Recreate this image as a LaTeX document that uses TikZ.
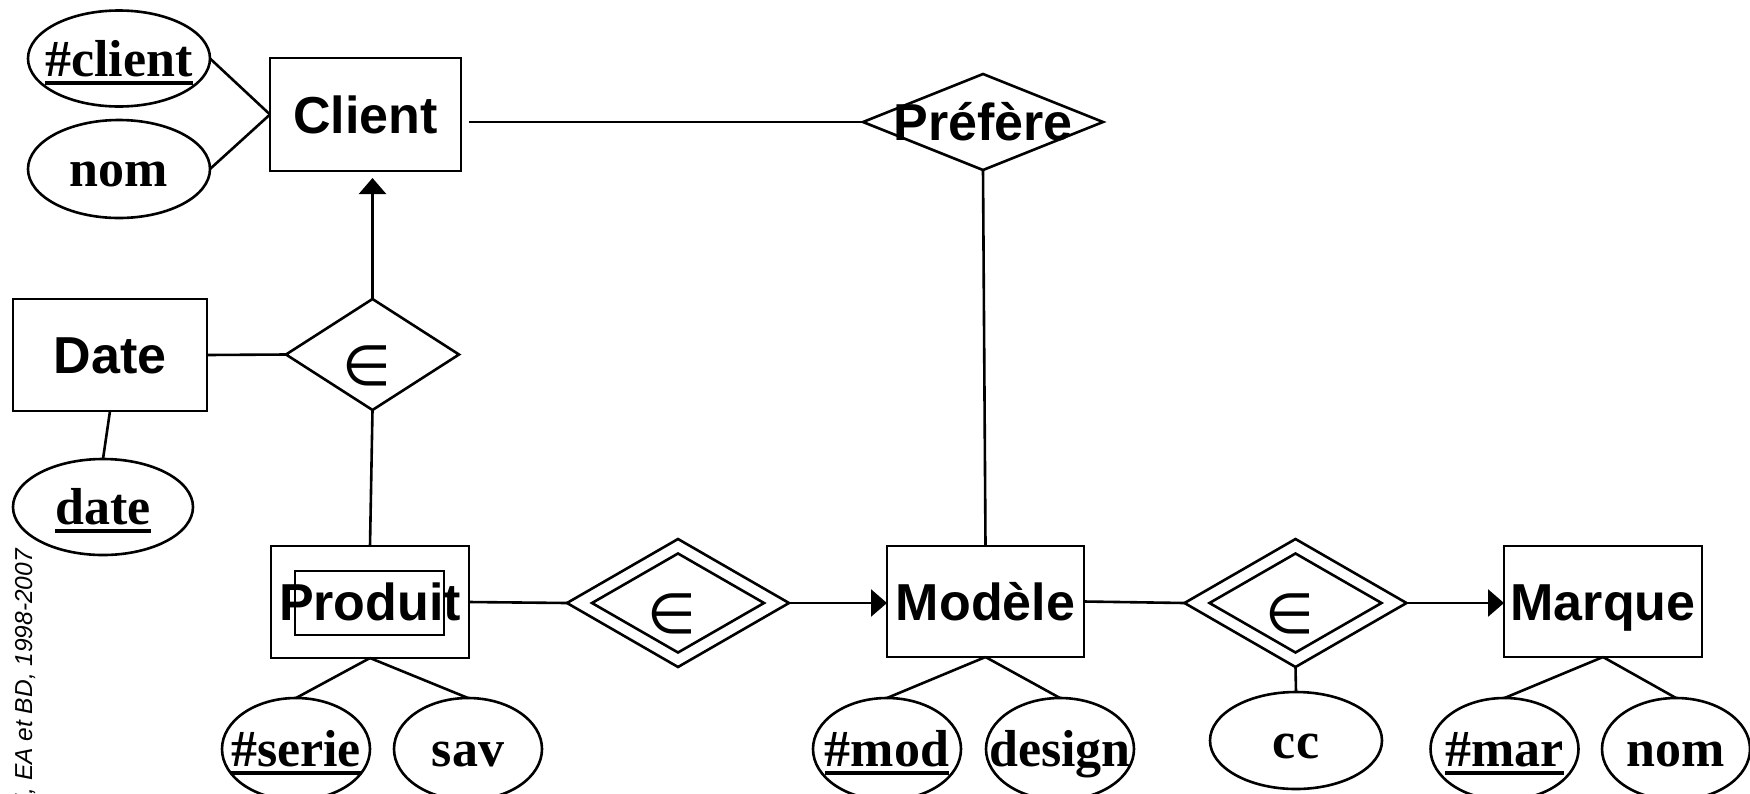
\documentclass[tikz,border=0pt]{standalone}
\usepackage{fontspec}
\usetikzlibrary{shapes.geometric,arrows.meta}
\newfontfamily\entfont{Liberation Sans}
\newfontfamily\attfont{Liberation Serif}
\newfontfamily\symfont{DejaVu Sans}
% key attribute: thick rule under the text
\newsavebox\keybox
\newcommand\keyline[1]{\sbox\keybox{#1}\rlap{\rule[-8.5pt]{\wd\keybox}{4pt}}\usebox\keybox}
% text placed by its baseline inside a shape of fixed size
\newcommand\attrtext[1]{\raisebox{-17.5pt}{\makebox[0pt]{#1}}}
\newcommand\reltext[1]{\raisebox{-18.6pt}{\makebox[0pt]{#1}}}
\begin{document}
\begin{tikzpicture}[x=1pt,y=-1pt,line join=miter,
  ln/.style={line width=2.6pt},
  entity/.style={draw,ln,rectangle,inner sep=0pt,outer sep=0pt,minimum height=112pt,
    font=\entfont\bfseries\fontsize{52}{52}\selectfont,text height=37.5pt,text depth=0pt},
  attr/.style={draw,ln,ellipse,inner sep=0pt,outer sep=0pt,minimum width=148pt,minimum height=102pt,
    font=\attfont\bfseries\fontsize{52}{52}\selectfont,text height=0pt,text depth=0pt},
  rel/.style={draw,ln,diamond,inner sep=0pt,outer sep=0pt,text height=0pt,text depth=0pt,
    font=\entfont\bfseries\fontsize{52}{52}\selectfont},
  symb/.style={inner sep=0pt,font=\symfont\fontsize{56}{56}\selectfont},
  link/.style={ln},
  isa/.style={ln,-{Triangle[width=27pt,length=16pt]}},
]
\useasboundingbox (0,0) rectangle (1750,793);
\fill[white] (0,0) rectangle (1750,793);

% --- Client and its attributes
\node[entity,minimum width=191pt,minimum height=113pt] (client) at (365.5,114.5) {Client};
\node[attr,minimum width=182pt,minimum height=96pt] (aclient) at (119,58.5) {\attrtext{\keyline{\#client}}};
\node[attr,minimum width=182pt,minimum height=98pt] (anom) at (119,169) {\attrtext{nom}};

% --- Préfère relationship
\node[rel,minimum width=240pt,minimum height=96pt] (pref) at (983,122) {\reltext{Préfère}};

% --- Date and membership
\node[entity,minimum width=194pt] (date) at (110,355) {Date};
\node[attr,minimum width=180pt,minimum height=96pt] (adate) at (103,507) {\attrtext{\keyline{date}}};
\node[rel,minimum width=173pt,minimum height=111pt] (in1) at (372.5,354.5) {};
\node[symb] (in1s) at ([xshift=-6pt,yshift=-11pt]in1.center) {∈};

% --- Produit (weak entity)
\node[entity,minimum width=198pt] (produit) at (370,602) {Produit};
\draw[ln,line width=2pt] ([shift={(24,25)}]produit.north west) rectangle ([shift={(-25,-23)}]produit.south east);
\node[attr] (serie) at (296,749) {\attrtext{\keyline{\#serie}}};
\node[attr] (sav) at (468,749) {\attrtext{sav}};

% --- identifying relationship Produit -> Modèle
\node[rel,minimum width=222pt,minimum height=128pt] (own1) at (678,603) {};
\node[rel,minimum width=172pt,minimum height=99pt] (own1in) at (own1.center) {};
\node[symb] (own1s) at ([xshift=-6pt,yshift=-11pt]own1.center) {∈};

% --- Modèle
\node[entity,minimum width=197pt,minimum height=111pt] (modele) at (985.5,601.5) {Modèle};
\node[attr] (mod) at (887,749) {\attrtext{\keyline{\#mod}}};
\node[attr] (design) at (1060,749) {\attrtext{design}};

% --- identifying relationship Modèle -> Marque
\node[rel,minimum width=222pt,minimum height=128pt] (own2) at (1295.5,603) {};
\node[rel,minimum width=172pt,minimum height=99pt] (own2in) at (own2.center) {};
\node[symb] (own2s) at ([xshift=-6pt,yshift=-11pt]own2.center) {∈};
\node[attr,minimum width=172pt,minimum height=97pt] (cc) at (1296,740.5) {\attrtext{cc}};

% --- Marque
\node[entity,minimum width=198pt,minimum height=111pt] (marque) at (1603,601.5) {Marque};
\node[attr] (mar) at (1504.5,749) {\attrtext{\keyline{\#mar}}};
\node[attr] (nom2) at (1676,749) {\attrtext{nom}};

% --- connectors
\draw[link] (aclient.east) -- (client.west);
\draw[link] (anom.east) -- (client.west);
\draw[link,shorten <=8pt] (client.east |- pref.west) -- (pref.west);
\draw[link] (pref.south) -- (modele.north);
\draw[link] (date.east) -- (in1.west);
\draw[link] (date.south) -- (adate.north);
\draw[isa,shorten >=7pt] (in1.north) -- (in1.north |- client.south);
\draw[link] (in1.south) -- (produit.north);
\draw[link] (produit.east) -- (own1.west);
\draw[isa] (own1.east) -- (own1.east -| modele.west);
\draw[link] (modele.east) -- (own2.west);
\draw[isa] (own2.east) -- (own2.east -| marque.west);
\draw[link] (own2.south) -- (cc.north);
\draw[link] (produit.south) -- (serie.north);
\draw[link] (produit.south) -- (sav.north);
\draw[link] (modele.south) -- (mod.north);
\draw[link] (modele.south) -- (design.north);
\draw[link] (marque.south) -- (mar.north);
\draw[link] (marque.south) -- (nom2.north);

% --- credit line along the left edge
\node[rotate=90,anchor=base east,inner sep=0pt,font=\entfont\itshape\fontsize{24.5}{24.5}\selectfont] (credit) at (32,549) {Z, EA et BD, 1998-2007};
\end{tikzpicture}
\end{document}
